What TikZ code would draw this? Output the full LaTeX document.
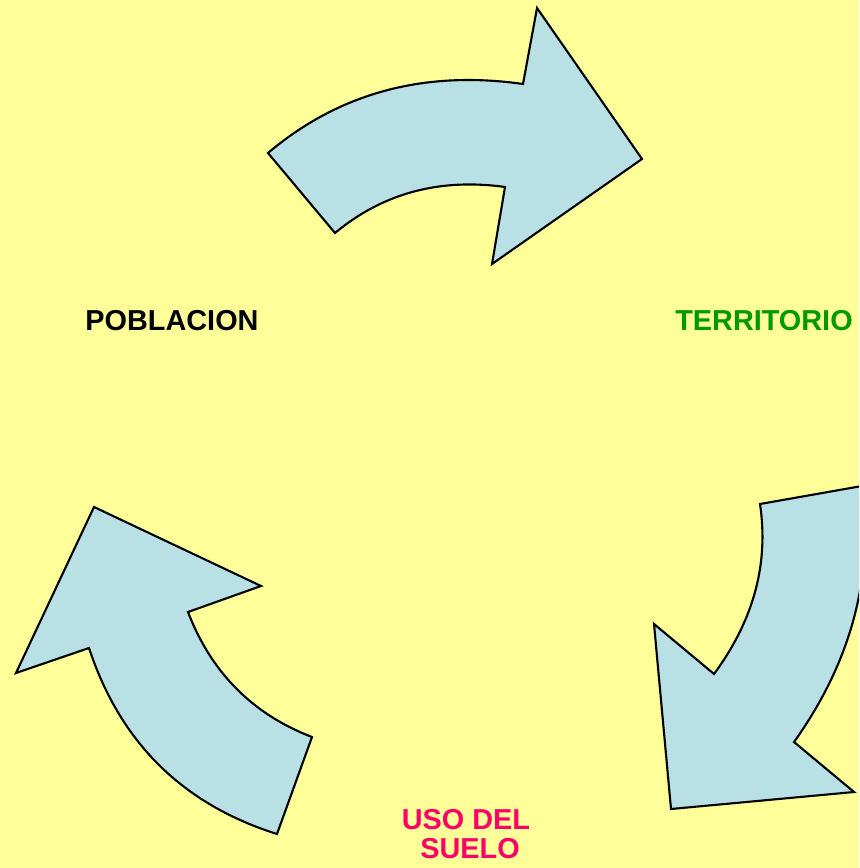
\documentclass[tikz,border=0pt]{standalone}
\usepackage{fontspec}
\setmainfont{Liberation Sans}
\usepackage{tikz}
\usetikzlibrary{positioning}
\definecolor{bgyellow}{HTML}{FFFF99}
\definecolor{arrowblue}{HTML}{B9E0E5}
\definecolor{terrgreen}{HTML}{009900}
\definecolor{suelored}{HTML}{FF0066}
\tikzstyle{bentarrow} = [draw=black, fill=arrowblue, line width=0.6pt, line join=miter]
\tikzstyle{word} = [font=\fontsize{8.2}{8.1}\selectfont\bfseries, inner sep=0pt, align=center]

\begin{document}
\begin{tikzpicture}[x=0.01cm, y=-0.01cm]
    \fill[bgyellow] (0,0) rectangle (859,868);
    \useasboundingbox (0,0) rectangle (859,868);
    \clip (0,0) rectangle (859,868);
    % top arrow, poblacion -> territorio
    \draw[bentarrow] (268,153) .. controls (339,93) and (424,70) .. (523,84)
        -- (537,8) -- (642,159) -- (492,264) -- (505,187)
        .. controls (440,178) and (383,193) .. (335,233) -- cycle;
    % right arrow, territorio -> uso del suelo
    \draw[bentarrow] (760,504) -- (862,486)
        .. controls (874,577) and (851,662) .. (794,742)
        -- (854,792) -- (671,809) -- (654,624) -- (714,674)
        .. controls (753,621) and (769,565) .. (760,504) -- cycle;
    % left arrow, uso del suelo -> poblacion
    \draw[bentarrow] (312,737) -- (277,834)
        .. controls (182,804) and (120,742) .. (89,648)
        -- (16,673) -- (94,507) -- (261,586) -- (188,612)
        .. controls (211,672) and (252,714) .. (312,737) -- cycle;
    \node[word] (poblacion) at (172,321) {POBLACION};
    \node[word, text=terrgreen] (territorio) at (764,321) {TERRITORIO};
    \node[word, text=suelored] (suelo) at (466,834) {USO DEL\\\hspace*{0.28em}SUELO};
\end{tikzpicture}
\end{document}
